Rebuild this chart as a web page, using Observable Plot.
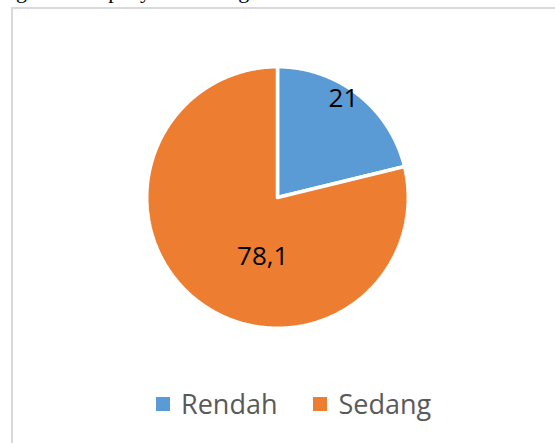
<!DOCTYPE html>
<html>
<head>
<meta charset="utf-8">
<script src="https://cdn.jsdelivr.net/npm/d3@7"></script>
<script src="https://cdn.jsdelivr.net/npm/@observablehq/plot@0.6"></script>
<style>
  html, body { margin: 0; padding: 0; background: #fff; width: 555px; height: 443px; overflow: hidden; position: relative; }
  #doctext { position: absolute; left: 16px; top: -20px; font-family: "Liberation Serif", "DejaVu Serif", serif; font-size: 22px; line-height: 22px; color: #000; white-space: nowrap; }
  #frame { position: absolute; left: 11px; top: 7px; width: 560px; height: 434px; border-left: 2px solid #d9d9d9; border-top: 2px solid #d9d9d9; background: #fff; }
  #chart { position: absolute; left: 0; top: 0; }
  #legend { position: absolute; left: 156px; top: 391px; display: flex; align-items: center; font-family: "Open Sans", sans-serif; font-size: 27px; line-height: 26px; color: #595959; }
  #legend .item { display: flex; align-items: center; margin-right: 36px; }
  #legend .sw { width: 14px; height: 14px; margin-right: 11px; }
</style>
</head>
<body>
<div id="doctext">gambaran penyebaran tingkat</div>
<div id="frame"></div>
<div id="chart"></div>
<div id="legend"></div>
<script>
// Data
const categories = ["Rendah", "Sedang"];
const values = [21, 78.1];
const labels = ["21", "78,1"];

// Styles
const colors = ["#5b9bd5", "#ed7d31"];
const labelPlace = [{r: 0.91, turn: -4.5}, {r: 0.47, turn: -24.2}];

const pie = d3.pie().sort(null).value(d => d)(values);

// Build slice outlines (unit circle, angle clockwise from 12 o'clock)
const slicePts = [];
pie.forEach((p, i) => {
  const cat = categories[i];
  slicePts.push({category: cat, x: 0, y: 0});
  const steps = Math.max(2, Math.ceil((p.endAngle - p.startAngle) / (Math.PI / 360)));
  for (let k = 0; k <= steps; k++) {
    const a = p.startAngle + (p.endAngle - p.startAngle) * k / steps;
    slicePts.push({category: cat, x: Math.sin(a), y: Math.cos(a)});
  }
  slicePts.push({category: cat, x: 0, y: 0});
});

const labelPts = pie.map((p, i) => {
  const a = (p.startAngle + p.endAngle) / 2 + labelPlace[i].turn * Math.PI / 180;
  const r = labelPlace[i].r;
  return {label: labels[i], x: r * Math.sin(a), y: r * Math.cos(a)};
});

const R = 130.75, cx = 277, cy = 197;
const chart = Plot.plot({
  width: 555,
  height: 370,
  margin: 0,
  style: {background: "none", overflow: "visible"},
  x: {domain: [-1, 1], range: [cx - R, cx + R], axis: null},
  y: {domain: [-1, 1], range: [cy + R, cy - R], axis: null},
  color: {domain: categories, range: colors},
  marks: [
    Plot.line(slicePts, {x: "x", y: "y", z: "category", fill: "category", stroke: "white", strokeWidth: 3.5, strokeLinejoin: "miter", curve: "linear"}),
    Plot.text(labelPts, {x: "x", y: "y", text: "label", fill: "#000", fontSize: 26, fontFamily: "Open Sans", textAnchor: "middle"})
  ]
});
document.getElementById("chart").appendChild(chart);

const legend = document.getElementById("legend");
categories.forEach((c, i) => {
  const item = document.createElement("div");
  item.className = "item";
  const sw = document.createElement("span");
  sw.className = "sw";
  sw.style.background = colors[i];
  const t = document.createElement("span");
  t.textContent = c;
  item.appendChild(sw);
  item.appendChild(t);
  legend.appendChild(item);
});
</script>
</body>
</html>
